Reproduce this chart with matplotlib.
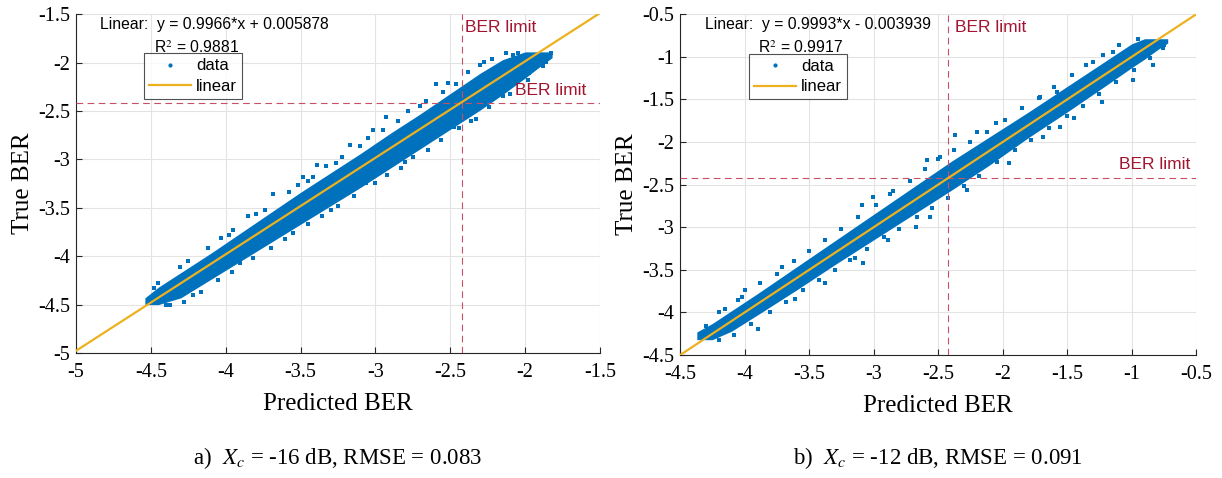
import matplotlib
matplotlib.use("Agg")
import matplotlib.pyplot as plt
import numpy as np

# ============ DATA ============
BER_LIMIT = -2.42

# panel a) Xc = -16 dB : dense core of the cloud (predicted, lower / upper true BER)
pred_a_env = [-4.54, -4.45, -4.30, -4.10, -3.90, -3.70, -3.50, -3.30, -3.10,
              -2.90, -2.70, -2.50, -2.30, -2.15, -2.00, -1.90, -1.82]
low_a_env = [-4.50, -4.50, -4.43, -4.24, -4.05, -3.86, -3.67, -3.48, -3.29,
             -3.09, -2.89, -2.69, -2.49, -2.33, -2.16, -2.04, -1.95]
up_a_env = [-4.43, -4.32, -4.17, -3.97, -3.76, -3.55, -3.34, -3.14, -2.94,
            -2.73, -2.53, -2.32, -2.11, -1.97, -1.89, -1.89, -1.89]
# scattered points around the core
pred_a_out = [-3.685, -3.485, -3.387, -3.853, -4.03, -4.307, -4.162, -3.607, -3.295,
              -3.185, -3.907, -4.373, -2.929, -2.595, -2.518, -3.018, -3.173, -3.262,
              -2.829, -2.751, -2.473, -2.418, -2.151, -1.973, -1.829, -2.273, -3.062,
              -2.13, -2.05, -1.86, -2.36, -2.70, -3.45, -3.95, -4.45, -4.22,
              -4.48, -4.25, -4.12, -3.98, -3.80, -3.74, -3.58, -3.52, -3.42, -3.33,
              -3.22, -3.10, -3.05, -2.95, -2.85, -2.78, -2.66, -2.55, -2.46, -2.38,
              -2.30, -2.22, -2.08,
              -4.40, -4.28, -4.05, -3.96, -3.82, -3.70, -3.55, -3.45, -3.36, -3.25,
              -3.14, -3.00, -2.92, -2.80, -2.65, -2.56, -2.44, -2.33, -2.24, -2.10,
              -1.98, -1.88]
true_a_out = [-3.36, -3.185, -3.058, -3.585, -3.815, -4.11, -4.366, -3.825, -3.523,
              -3.35, -4.073, -4.503, -2.56, -2.226, -2.216, -2.697, -2.852, -3.04,
              -3.092, -2.972, -2.663, -2.542, -2.346, -2.112, -1.906, -1.999, -3.248,
              -1.90, -1.90, -1.99, -2.60, -2.45, -3.22, -3.73, -4.28, -4.40,
              -4.33, -4.05, -3.92, -3.78, -3.56, -3.52, -3.34, -3.26, -3.18, -3.07,
              -2.98, -2.86, -2.78, -2.70, -2.60, -2.50, -2.40, -2.30, -2.22, -2.10,
              -2.03, -1.96, -1.92,
              -4.50, -4.47, -4.25, -4.16, -4.02, -3.92, -3.76, -3.67, -3.58, -3.48,
              -3.38, -3.24, -3.16, -3.03, -2.90, -2.80, -2.68, -2.58, -2.46, -2.32,
              -2.18, -2.04]
fit_a = (0.9966, 0.005878)
r2_a = 0.9881

# panel b) Xc = -12 dB
pred_b_env = [-4.37, -4.25, -4.10, -3.90, -3.60, -3.30, -3.00, -2.70, -2.40,
              -2.10, -1.80, -1.50, -1.20, -1.00, -0.90, -0.80, -0.72]
low_b_env = [-4.32, -4.32, -4.22, -4.03, -3.74, -3.44, -3.15, -2.86, -2.57,
             -2.27, -1.95, -1.65, -1.34, -1.13, -1.03, -0.92, -0.84]
up_b_env = [-4.23, -4.13, -3.98, -3.78, -3.47, -3.16, -2.85, -2.54, -2.23,
            -1.94, -1.65, -1.35, -1.05, -0.85, -0.79, -0.79, -0.79]
pred_b_out = [-3.712, -3.893, -3.996, -3.376, -3.609, -3.079, -3.143, -3.092, -3.001,
              -2.872, -2.67, -2.562, -2.885, -2.368, -2.2, -1.71, -1.58, -1.296,
              -1.141, -1.684, -1.554, -1.231, -0.986, -0.831, -2.278, -2.484, -2.588,
              -4.20, -4.05, -1.95, -0.75, -0.95, -1.45, -2.05,
              -4.30, -4.15, -4.02, -3.88, -3.75, -3.62, -3.50, -3.38, -3.25, -3.12,
              -2.98, -2.85, -2.72, -2.60, -2.50, -2.38, -2.25, -2.12, -1.98, -1.85,
              -1.72, -1.60, -1.46, -1.35, -1.22, -1.10,
              -4.20, -4.08, -3.95, -3.80, -3.68, -3.55, -3.42, -3.30, -3.18, -3.05,
              -2.92, -2.80, -2.66, -2.55, -2.42, -2.30, -2.18, -2.04, -1.90, -1.78,
              -1.64, -1.50, -1.38, -1.25, -1.12, -0.98, -0.86, -0.76]
true_b_out = [-3.464, -4.199, -3.738, -3.651, -3.847, -3.417, -3.366, -2.74, -2.643,
              -2.611, -2.995, -2.878, -3.151, -1.919, -1.88, -1.47, -1.41, -1.06,
              -0.942, -1.939, -1.822, -1.529, -1.274, -1.098, -2.565, -2.174, -2.213,
              -4.00, -3.86, -2.25, -0.86, -0.79, -1.72, -1.78,
              -4.16, -3.96, -3.82, -3.66, -3.55, -3.40, -3.28, -3.15, -3.02, -2.88,
              -2.74, -2.58, -2.46, -2.32, -2.20, -2.10, -2.00, -1.88, -1.74, -1.60,
              -1.48, -1.36, -1.22, -1.10, -0.98, -0.86,
              -4.32, -4.26, -4.14, -4.00, -3.88, -3.74, -3.62, -3.50, -3.38, -3.26,
              -3.12, -3.02, -2.88, -2.78, -2.66, -2.52, -2.40, -2.24, -2.10, -1.98,
              -1.84, -1.70, -1.58, -1.44, -1.30, -1.16, -1.02, -0.90]
fit_b = (0.9993, -0.003939)
r2_b = 0.9917

BLUE = "#0072BD"
ORANGE = "#EDB120"
LIMIT_RED = "#C94F66"
LABEL_RED = "#A2142F"

SERIF = ["Liberation Serif", "DejaVu Serif"]
SANS = ["Liberation Sans", "DejaVu Sans"]
plt.rcParams["mathtext.fontset"] = "stix"

fig = plt.figure(figsize=(12.22, 4.78), dpi=100)
ax_a = fig.add_axes([0.0622, 0.2615, 0.4288, 0.709])
ax_b = fig.add_axes([0.5565, 0.2573, 0.4223, 0.7134])


def draw_panel(ax, pe, lo, up, po, to, fit, r2, lim, step, vlab, hlab, legx):
    ax.fill_between(pe, lo, up, color=BLUE, linewidth=0, zorder=2)
    ax.scatter(po, to, s=6, marker="s", color=BLUE, linewidths=0, zorder=2)
    # proxy for the legend
    ax.plot([], [], ".", color=BLUE, markersize=4, label="data")

    xs = np.array(lim)
    ax.plot(xs, fit[0] * xs + fit[1], color=ORANGE, linewidth=1.6, zorder=4, label="linear")

    ax.axvline(BER_LIMIT, color=LIMIT_RED, linewidth=0.8, dashes=(6, 4), zorder=3)
    ax.axhline(BER_LIMIT, color=LIMIT_RED, linewidth=0.8, dashes=(6, 4), zorder=3)
    ax.text(vlab[0], vlab[1], "BER limit", color=LABEL_RED, fontsize=12.5,
            family=SANS, va="center", ha="left")
    ax.text(hlab[0], hlab[1], "BER limit", color=LABEL_RED, fontsize=12.5,
            family=SANS, va="center", ha="left")

    sign = "+" if fit[1] >= 0 else "-"
    ax.text(legx - 0.085, 0.970, f"Linear:  y = {fit[0]:.4f}*x {sign} {abs(fit[1]):.6f}",
            transform=ax.transAxes, fontsize=11.3, family=SANS, va="center", ha="left")
    ax.text(legx + 0.018, 0.900, r"R$^2$ = " + f"{r2:.4f}",
            transform=ax.transAxes, fontsize=11.3, family=SANS, va="center", ha="left")

    leg = ax.legend(loc="upper left", bbox_to_anchor=(legx, 0.884), frameon=True,
                    fancybox=False, prop={"family": SANS, "size": 12}, handlelength=2.5,
                    borderpad=0.3, labelspacing=0.35, handletextpad=0.3, borderaxespad=0)
    leg.get_frame().set_edgecolor("#262626")
    leg.get_frame().set_linewidth(0.8)

    ax.set_xlim(lim)
    ax.set_ylim(lim)
    ticks = np.arange(lim[0], lim[1] + 0.01, step)
    ax.set_xticks(ticks)
    ax.set_yticks(ticks)
    ax.set_xticklabels([f"{t:g}" for t in ticks], family=SERIF, fontsize=14.5)
    ax.set_yticklabels([f"{t:g}" for t in ticks], family=SERIF, fontsize=14.5)
    ax.tick_params(direction="in", length=4, color="#262626")
    ax.tick_params(axis="x", pad=7)
    ax.tick_params(axis="y", pad=4)
    ax.grid(True, color="#E3E3E3", linewidth=0.8, zorder=0)
    ax.set_axisbelow(True)
    for s in ("top", "right"):
        ax.spines[s].set_visible(False)
    for s in ("left", "bottom"):
        ax.spines[s].set_color("#262626")
        ax.spines[s].set_linewidth(0.8)
    ax.set_xlabel("Predicted BER", family=SERIF, fontsize=18, labelpad=8)
    ax.set_ylabel("True BER", family=SERIF, fontsize=18, labelpad=3)


draw_panel(ax_a, pred_a_env, low_a_env, up_a_env, pred_a_out, true_a_out, fit_a, r2_a,
           (-5, -1.5), 0.5, (-2.40, -1.64), (-2.07, -2.29), 0.130)
draw_panel(ax_b, pred_b_env, low_b_env, up_b_env, pred_b_out, true_b_out, fit_b, r2_b,
           (-4.5, -0.5), 0.5, (-2.37, -0.66), (-1.10, -2.26), 0.134)

fig.text(0.2766, 0.042, r"a)  $X_c$ = -16 dB, RMSE = 0.083", family=SERIF,
         fontsize=16.5, ha="center", va="center")
fig.text(0.7677, 0.042, r"b)  $X_c$ = -12 dB, RMSE = 0.091", family=SERIF,
         fontsize=16.5, ha="center", va="center")

fig.savefig("out.png", dpi=100)
